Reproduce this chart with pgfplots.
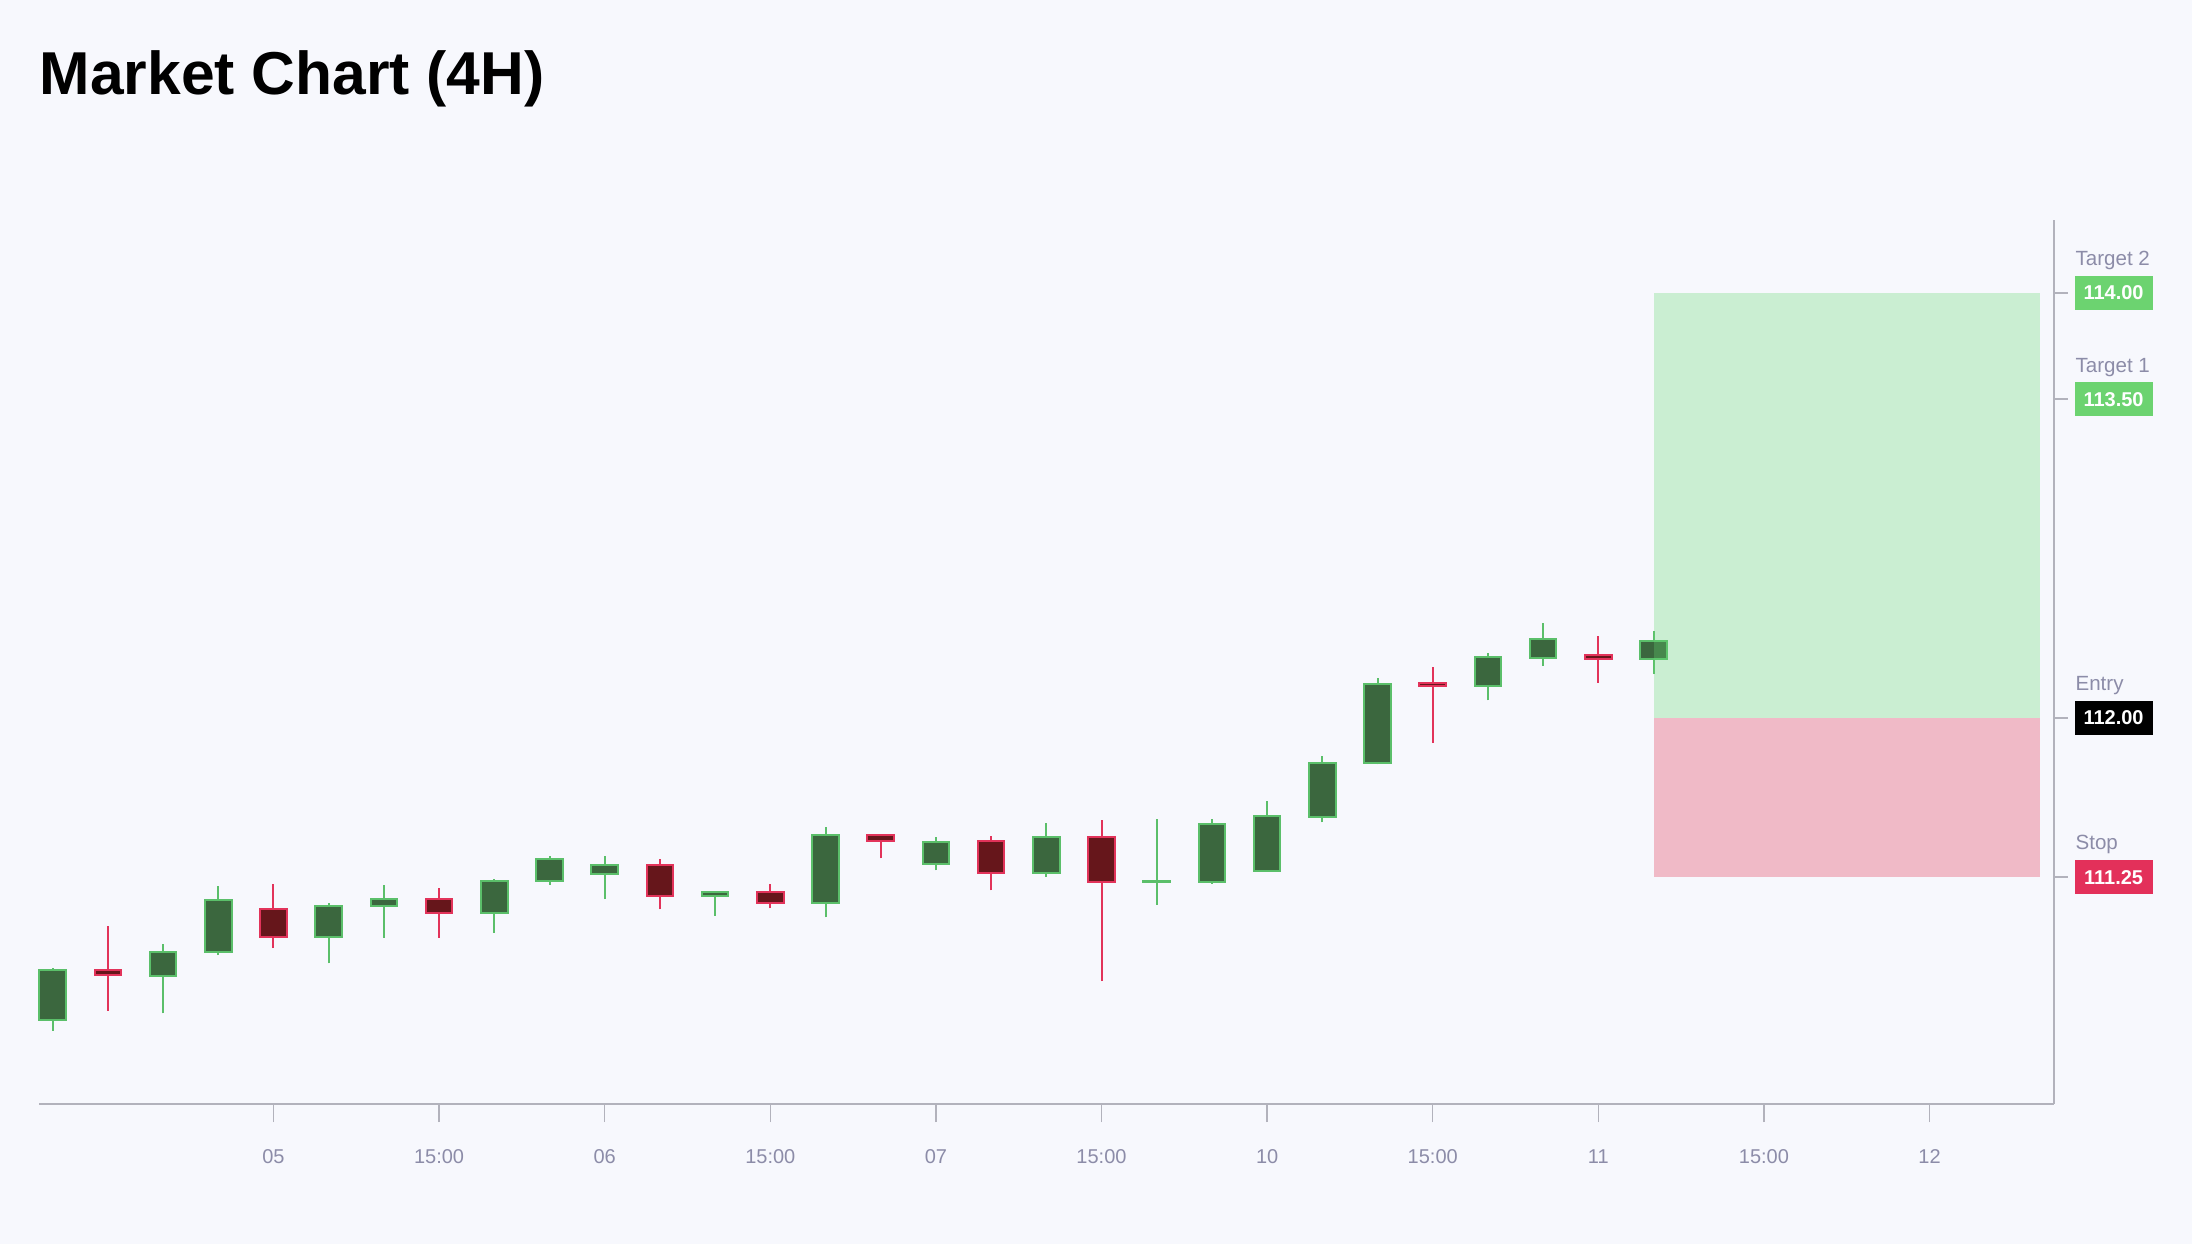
\documentclass[border=0pt]{standalone}
\usepackage{pgfplots}
\pgfplotsset{compat=1.18}
\usepackage{fontspec}
\setmainfont{Liberation Sans}
\definecolor{bgcol}{HTML}{F7F8FD}
\definecolor{axgray}{HTML}{B2B2BC}
\definecolor{labgray}{HTML}{8C8CA8}
\definecolor{gbody}{HTML}{3B673E}
\definecolor{gedge}{HTML}{5BBF6A}
\definecolor{rbody}{HTML}{66161B}
\definecolor{redge}{HTML}{E2335A}
\definecolor{posg}{HTML}{64D771}
\definecolor{posr}{HTML}{E02D4C}
\definecolor{tgreen}{HTML}{6CD370}
\definecolor{tred}{HTML}{E3305A}
\begin{document}
\begin{tikzpicture}
\fill[bgcol] (0,0) rectangle (789.12pt,-447.84pt);
\node[anchor=base west, inner sep=0pt, font=\bfseries\fontsize{21.8}{26}\selectfont] at (14.15pt,-33.84pt) {Market Chart (4H)};
\begin{axis}[
  at={(14.04pt,-397.44pt)}, anchor=south west,
  scale only axis, width=725.4pt, height=318.42pt,
  xmin=-0.248, xmax=36.255, ymin=110.182, ymax=114.346,
  axis x line*=bottom, axis y line*=right,
  axis line style={draw=axgray, line width=0.55pt},
  xtick={4,7,...,34},
  xticklabels={05,15:00,06,15:00,07,15:00,10,15:00,11,15:00,12},
  tick align=outside,
  major tick length=6.5pt,
  major tick style={draw=axgray, line width=0.55pt},
  xticklabel style={font=\fontsize{7.2}{8}\selectfont, text=labgray, anchor=center, yshift=-12.5pt},
  ytick=\empty,
  extra y ticks={111.25,112,113.5,114},
  extra y tick labels={,,,},
  extra y tick style={major tick length=4.9pt},
  clip=false,
  wickG/.style={draw=gedge, line width=0.72pt},
  wickR/.style={draw=redge, line width=0.72pt},
  bodyG/.style={draw=gedge, fill=gbody, line width=0.72pt},
  bodyR/.style={draw=redge, fill=rbody, line width=0.72pt},
]
% ---- candles: wick (low -> high), then body (open/close) ----
\addplot[wickG] coordinates {(0,110.527) (0,110.821)};
\addplot[bodyG] coordinates {(-0.24,110.577) (0.24,110.577) (0.24,110.813) (-0.24,110.813)} -- cycle;
\addplot[wickR] coordinates {(1,110.620) (1,111.020)};
\addplot[bodyR] coordinates {(0.76,110.788) (1.24,110.788) (1.24,110.813) (0.76,110.813)} -- cycle;
\addplot[wickG] coordinates {(2,110.609) (2,110.935)};
\addplot[bodyG] coordinates {(1.76,110.784) (2.24,110.784) (2.24,110.897) (1.76,110.897)} -- cycle;
\addplot[wickG] coordinates {(3,110.883) (3,111.208)};
\addplot[bodyG] coordinates {(2.76,110.899) (3.24,110.899) (3.24,111.141) (2.76,111.141)} -- cycle;
\addplot[wickR] coordinates {(4,110.916) (4,111.216)};
\addplot[bodyR] coordinates {(3.76,110.968) (4.24,110.968) (4.24,111.101) (3.76,111.101)} -- cycle;
\addplot[wickG] coordinates {(5,110.844) (5,111.127)};
\addplot[bodyG] coordinates {(4.76,110.969) (5.24,110.969) (5.24,111.114) (4.76,111.114)} -- cycle;
\addplot[wickG] coordinates {(6,110.965) (6,111.211)};
\addplot[bodyG] coordinates {(5.76,111.115) (6.24,111.115) (6.24,111.148) (5.76,111.148)} -- cycle;
\addplot[wickR] coordinates {(7,110.965) (7,111.199)};
\addplot[bodyR] coordinates {(6.76,111.082) (7.24,111.082) (7.24,111.148) (6.76,111.148)} -- cycle;
\addplot[wickG] coordinates {(8,110.988) (8,111.240)};
\addplot[bodyG] coordinates {(7.76,111.082) (8.24,111.082) (8.24,111.233) (7.76,111.233)} -- cycle;
\addplot[wickG] coordinates {(9,111.214) (9,111.348)};
\addplot[bodyG] coordinates {(8.76,111.232) (9.24,111.232) (9.24,111.337) (8.76,111.337)} -- cycle;
\addplot[wickG] coordinates {(10,111.147) (10,111.348)};
\addplot[bodyG] coordinates {(9.76,111.265) (10.24,111.265) (10.24,111.307) (9.76,111.307)} -- cycle;
\addplot[wickR] coordinates {(11,111.098) (11,111.335)};
\addplot[bodyR] coordinates {(10.76,111.160) (11.24,111.160) (11.24,111.307) (10.76,111.307)} -- cycle;
\addplot[wickG] coordinates {(12,111.068) (12,111.186)};
\addplot[bodyG] coordinates {(11.76,111.162) (12.24,111.162) (12.24,111.180) (11.76,111.180)} -- cycle;
\addplot[wickR] coordinates {(13,111.103) (13,111.216)};
\addplot[bodyR] coordinates {(12.76,111.127) (13.24,111.127) (13.24,111.181) (12.76,111.181)} -- cycle;
\addplot[wickG] coordinates {(14,111.061) (14,111.484)};
\addplot[bodyG] coordinates {(13.76,111.127) (14.24,111.127) (14.24,111.447) (13.76,111.447)} -- cycle;
\addplot[wickR] coordinates {(15,111.338) (15,111.453)};
\addplot[bodyR] coordinates {(14.76,111.419) (15.24,111.419) (15.24,111.450) (14.76,111.450)} -- cycle;
\addplot[wickG] coordinates {(16,111.282) (16,111.439)};
\addplot[bodyG] coordinates {(15.76,111.312) (16.24,111.312) (16.24,111.414) (15.76,111.414)} -- cycle;
\addplot[wickR] coordinates {(17,111.188) (17,111.442)};
\addplot[bodyR] coordinates {(16.76,111.271) (17.24,111.271) (17.24,111.420) (16.76,111.420)} -- cycle;
\addplot[wickG] coordinates {(18,111.250) (18,111.503)};
\addplot[bodyG] coordinates {(17.76,111.271) (18.24,111.271) (18.24,111.440) (17.76,111.440)} -- cycle;
\addplot[wickR] coordinates {(19,110.761) (19,111.519)};
\addplot[bodyR] coordinates {(18.76,111.227) (19.24,111.227) (19.24,111.440) (18.76,111.440)} -- cycle;
\addplot[wickG] coordinates {(20,111.119) (20,111.524)};
\addplot[bodyG] coordinates {(19.76,111.226) (20.24,111.226) (20.24,111.234) (19.76,111.234)} -- cycle;
\addplot[wickG] coordinates {(21,111.219) (21,111.524)};
\addplot[bodyG] coordinates {(20.76,111.227) (21.24,111.227) (21.24,111.501) (20.76,111.501)} -- cycle;
\addplot[wickG] coordinates {(22,111.275) (22,111.607)};
\addplot[bodyG] coordinates {(21.76,111.280) (22.24,111.280) (22.24,111.536) (21.76,111.536)} -- cycle;
\addplot[wickG] coordinates {(23,111.508) (23,111.820)};
\addplot[bodyG] coordinates {(22.76,111.533) (23.24,111.533) (23.24,111.787) (22.76,111.787)} -- cycle;
\addplot[wickG] coordinates {(24,111.781) (24,112.187)};
\addplot[bodyG] coordinates {(23.76,111.786) (24.24,111.786) (24.24,112.161) (23.76,112.161)} -- cycle;
\addplot[wickR] coordinates {(25,111.883) (25,112.238)};
\addplot[bodyR] coordinates {(24.76,112.150) (25.24,112.150) (25.24,112.165) (24.76,112.165)} -- cycle;
\addplot[wickG] coordinates {(26,112.082) (26,112.304)};
\addplot[bodyG] coordinates {(25.76,112.148) (26.24,112.148) (26.24,112.285) (25.76,112.285)} -- cycle;
\addplot[wickG] coordinates {(27,112.245) (27,112.445)};
\addplot[bodyG] coordinates {(26.76,112.280) (27.24,112.280) (27.24,112.370) (26.76,112.370)} -- cycle;
\addplot[wickR] coordinates {(28,112.165) (28,112.385)};
\addplot[bodyR] coordinates {(27.76,112.275) (28.24,112.275) (28.24,112.294) (27.76,112.294)} -- cycle;
\addplot[wickG] coordinates {(29,112.206) (29,112.407)};
\addplot[bodyG] coordinates {(28.76,112.277) (29.24,112.277) (29.24,112.363) (28.76,112.363)} -- cycle;
% ---- position zones ----
\addplot[draw=none, fill=posg, fill opacity=0.3] coordinates {(29,112) (36,112) (36,114) (29,114)} -- cycle;
\addplot[draw=none, fill=posr, fill opacity=0.3] coordinates {(29,111.25) (36,111.25) (36,112) (29,112)} -- cycle;
% ---- level labels ----
\def\xR{36.255}
\tikzset{lvlname/.style={anchor=base west, inner sep=0pt, text=labgray, font=\fontsize{7.4}{8}\selectfont, xshift=7.56pt, yshift=9.8pt},
  lvlbox/.style={anchor=west, text=white, inner sep=0pt, minimum width=28.08pt, minimum height=12.24pt, font=\bfseries\fontsize{7.2}{8}\selectfont, xshift=7.2pt}}
\node[lvlname] at (axis cs:\xR,114) {Target 2};
\node[lvlbox, fill=tgreen] at (axis cs:\xR,114) {114.00};
\node[lvlname] at (axis cs:\xR,113.5) {Target 1};
\node[lvlbox, fill=tgreen] at (axis cs:\xR,113.5) {113.50};
\node[lvlname] at (axis cs:\xR,112) {Entry};
\node[lvlbox, fill=black] at (axis cs:\xR,112) {112.00};
\node[lvlname] at (axis cs:\xR,111.25) {Stop};
\node[lvlbox, fill=tred] at (axis cs:\xR,111.25) {111.25};
\end{axis}
\pgfresetboundingbox
\path (0,0) rectangle (789.12pt,-447.84pt);
\end{tikzpicture}
\end{document}
